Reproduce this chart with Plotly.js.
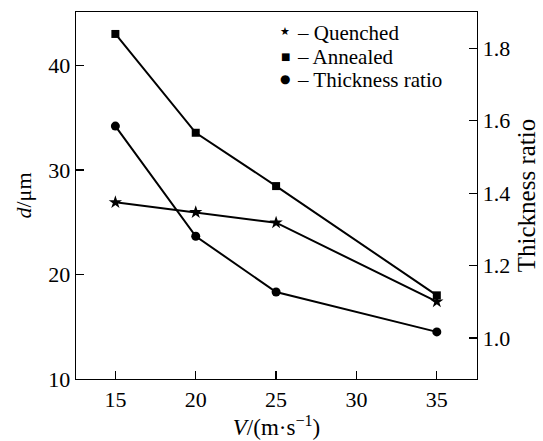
<!DOCTYPE html>
<html><head><meta charset="utf-8">
<script src="https://cdn.plot.ly/plotly-3.0.1.min.js"></script>
<style>html,body{margin:0;padding:0;background:#fff}#chart{width:543px;height:441px}</style>
</head><body><div id="chart"></div>
<script>
var velocity = [15, 20, 25, 35];
var quenched = [26.9, 25.95, 24.95, 17.4];
var annealed = [43.0, 33.55, 28.45, 18.0];
var thicknessRatio = [1.585, 1.281, 1.127, 1.017];
var seriesNames = ['Quenched', 'Annealed', 'Thickness ratio'];
var legendGlyphs = ['★', '■', '●'];
var xTicks = [15, 20, 25, 30, 35];
var yTicks = [10, 20, 30, 40];
var y2Ticks = [1.0, 1.2, 1.4, 1.6, 1.8];

var F = '"Liberation Serif", "Times New Roman", Times, serif';
var lineStyle = {color: '#000', width: 2};
var traces = [
  {x: velocity, y: quenched, name: seriesNames[0], mode: 'lines+markers', line: lineStyle, marker: {symbol: 'star', size: 10, color: '#000'}},
  {x: velocity, y: annealed, name: seriesNames[1], mode: 'lines+markers', line: lineStyle, marker: {symbol: 'square', size: 8, color: '#000'}},
  {x: velocity, y: thicknessRatio, name: seriesNames[2], yaxis: 'y2', mode: 'lines+markers', line: lineStyle, marker: {symbol: 'circle', size: 9, color: '#000'}}
];

// legend drawn as text annotations (compact rows like the reference)
var legTextY = [0.9421, 0.878, 0.8139];
var legMarkY = [0.9471, 0.8789, 0.8181];
var legMarkSize = [11, 10, 12];
var annotations = [];
for (var i = 0; i < seriesNames.length; i++) {
  annotations.push({xref: 'paper', yref: 'paper', x: 0.5222, y: legMarkY[i], xanchor: 'center', yanchor: 'middle',
    text: legendGlyphs[i], showarrow: false, borderpad: 0, borderwidth: 0,
    font: {family: 'DejaVu Sans', size: legMarkSize[i], color: '#000'}});
  annotations.push({xref: 'paper', yref: 'paper', x: 0.5521, y: legTextY[i], xanchor: 'left', yanchor: 'middle',
    text: '– ' + seriesNames[i], showarrow: false, borderpad: 0, borderwidth: 0,
    font: {family: F, size: 21, color: '#000'}});
}

var layout = {
  width: 543, height: 441,
  margin: {l: 75.5, r: 66.3, t: 12.3, b: 62, pad: 0},
  paper_bgcolor: '#fff', plot_bgcolor: '#fff',
  font: {family: F, size: 22, color: '#000'},
  showlegend: false,
  annotations: annotations,
  xaxis: {range: [12.55, 37.5], tickvals: xTicks, ticks: 'inside', ticklen: 8, tickwidth: 1.3, tickcolor: '#000',
    showline: true, linecolor: '#000', linewidth: 1.3, mirror: true, showgrid: false, zeroline: false,
    tickfont: {family: F, size: 22},
    title: {text: '<i>V</i>/(m·s<sup>−1</sup>)', font: {family: F, size: 23}, standoff: 8}},
  yaxis: {range: [10, 45.1], tickvals: yTicks, ticks: 'inside', ticklen: 8, tickwidth: 1.3, tickcolor: '#000',
    showline: true, linecolor: '#000', linewidth: 1.3, showgrid: false, zeroline: false,
    tickfont: {family: F, size: 22},
    title: {text: '<i>d</i>/μm', font: {family: F, size: 22}, standoff: 10}},
  yaxis2: {overlaying: 'y', side: 'right', range: [0.887, 1.9], tickvals: y2Ticks, tickformat: '.1f', ticks: 'inside', ticklen: 8, tickwidth: 1.3, tickcolor: '#000',
    showline: true, linecolor: '#000', linewidth: 1.3, showgrid: false, zeroline: false,
    tickfont: {family: F, size: 22},
    title: {text: 'Thickness ratio', font: {family: F, size: 25}, standoff: 8}}
};
Plotly.newPlot('chart', traces, layout, {staticPlot: true});
</script></body></html>
